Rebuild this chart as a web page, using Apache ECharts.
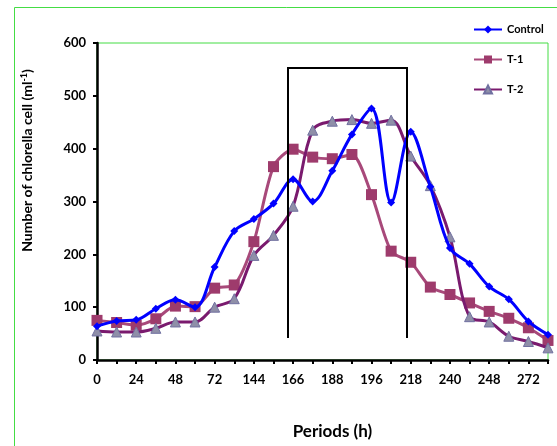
<!DOCTYPE html>
<html lang="en">
<head>
<meta charset="UTF-8">
<title>Chlorella</title>
<script src="https://cdn.jsdelivr.net/npm/echarts@6/dist/echarts.min.js"></script>
<style>
  html, body { margin: 0; padding: 0; background: #fff; }
  #chart { width: 557px; height: 446px; }
</style>
</head>
<body>
<div id="chart"></div>
<script>
// tick labels shown on every other sampling point
var tickLabels = ['0', '24', '48', '72', '144', '166', '188', '196', '218', '240', '248', '272'];
var points = [];
for (var i = 0; i < 24; i++) points.push(String(i));

var control = [64, 74, 76, 97, 114, 100, 176, 244, 267, 296, 342, 300, 358, 427, 476, 298, 432, 328, 212, 182, 139, 115, 73, 48];
var t1 = [75, 71, 66, 78, 102, 101, 136, 142, 224, 366, 399, 384, 381, 389, 313, 206, 185, 138, 124, 108, 92, 79, 61, 37];
var t2 = [55, 53, 53, 60, 72, 72, 100, 116, 198, 236, 291, 435, 452, 455, 448, 454, 386, 330, 233, 82, 72, 45, 35, 23];

var font = 'Lato';
var chart = echarts.init(document.getElementById('chart'));

var option = {
	animation: false,
	textStyle: { fontFamily: font },
	grid: {
		left: 97, right: 9, top: 43, bottom: 86,
		show: true, borderColor: '#44dd44', borderWidth: 1
	},
	legend: {
		orient: 'vertical',
		left: 473, top: 24, padding: 0,
		itemWidth: 28, itemHeight: 10, itemGap: 19,
		textStyle: { fontFamily: font, fontWeight: 'bold', fontSize: 11, color: '#000' },
		data: ['Control', 'T-1', 'T-2']
	},
	xAxis: {
		type: 'category',
		data: points,
		boundaryGap: false,
		name: 'Periods (h)',
		nameLocation: 'middle',
		nameGap: 63,
		nameTextStyle: { fontFamily: font, fontWeight: 'bold', fontSize: 17, color: '#000', padding: [0, 0, 0, 20] },
		axisLine: { lineStyle: { color: '#000', width: 2.5 } },
		axisTick: { show: true, interval: 0, length: 4, lineStyle: { color: '#000', width: 2 } },
		axisLabel: {
			interval: 0, margin: 13,
			fontFamily: font, fontWeight: 'bold', fontSize: 13, color: '#000',
			formatter: function (v, idx) { return idx % 2 === 0 ? tickLabels[idx / 2] : ''; }
		},
		splitLine: { show: false }
	},
	yAxis: {
		type: 'value',
		min: 0, max: 600, interval: 100,
		name: 'Number of chlorella cell (ml{sup|-1})',
		nameLocation: 'middle',
		nameGap: 62,
		nameTextStyle: {
			fontFamily: font, fontWeight: 'bold', fontSize: 14, color: '#000',
			padding: [0, 0, 0, 82],
			rich: { sup: { fontFamily: font, fontWeight: 'bold', fontSize: 9, color: '#000', verticalAlign: 'top', padding: [0, 0, 6, 0] } }
		},
		axisLine: { show: true, lineStyle: { color: '#000', width: 2.5 } },
		axisTick: { show: true, length: 4, lineStyle: { color: '#000', width: 2 } },
		axisLabel: { margin: 11, fontFamily: font, fontWeight: 'bold', fontSize: 13, color: '#000' },
		splitLine: { show: false }
	},
	series: [
		{
			name: 'T-1', type: 'line', data: t1, smooth: 0.25,
			symbol: 'rect', symbolSize: 11,
			lineStyle: { color: '#a8497a', width: 3 },
			itemStyle: { color: '#9e3b6c' },
			z: 2
		},
		{
			name: 'T-2', type: 'line', data: t2, smooth: 0.35,
			symbol: 'triangle', symbolSize: 10,
			lineStyle: { color: '#7a1a6e', width: 3 },
			itemStyle: { color: '#8f8fa8', borderColor: '#7070a0', borderWidth: 1 },
			z: 3
		},
		{
			name: 'Control', type: 'line', data: control, smooth: 0.35,
			symbol: 'diamond', symbolSize: 8,
			lineStyle: { color: '#0000ff', width: 3 },
			itemStyle: { color: '#0000ff' },
			z: 4
		}
	],
	graphic: [
		{
			type: 'rect', left: 12, top: 5, silent: true,
			shape: { width: 560, height: 460 },
			style: { fill: 'none', stroke: '#44dd44', lineWidth: 1 }
		},
		{
			type: 'polyline', silent: true, z: 10,
			shape: { points: [[288, 338], [288, 68], [407, 68], [407, 338]] },
			style: { fill: 'none', stroke: '#000', lineWidth: 2 }
		}
	]
};

chart.setOption(option);
</script>
</body>
</html>
